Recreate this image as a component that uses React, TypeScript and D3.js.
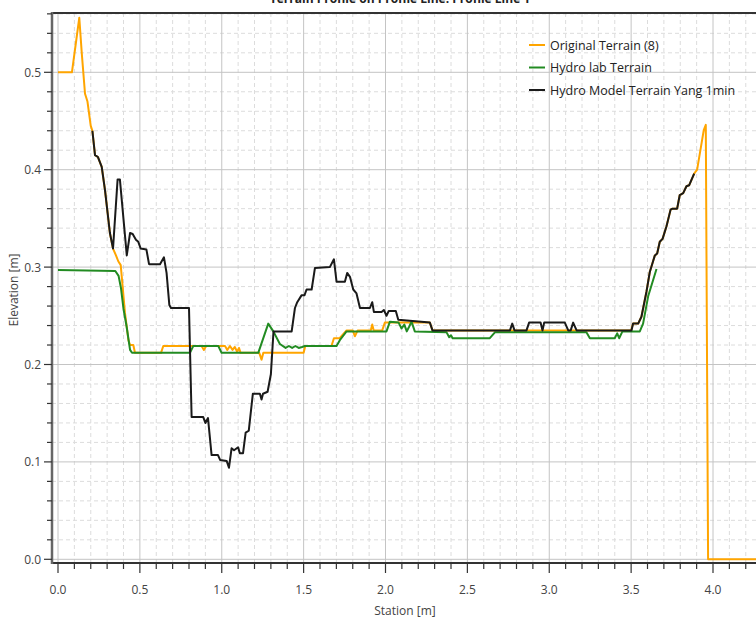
import React from "react";
import * as d3 from "d3";

const originalTerrain: [number, number][] = [
  [0, 0.5], [0.085, 0.5], [0.13, 0.556], [0.145, 0.52], [0.165, 0.478], [0.18, 0.47], [0.2, 0.445], [0.21, 0.44],
  [0.226, 0.415], [0.244, 0.413], [0.267, 0.403], [0.287, 0.379], [0.317, 0.335], [0.336, 0.319], [0.354, 0.312],
  [0.368, 0.306], [0.383, 0.302], [0.409, 0.253], [0.43, 0.225], [0.44, 0.22], [0.46, 0.22], [0.47, 0.212],
  [0.629, 0.212], [0.643, 0.219], [0.877, 0.219], [0.891, 0.215], [0.905, 0.219], [1.02, 0.219], [1.034, 0.215],
  [1.05, 0.219], [1.066, 0.215], [1.08, 0.218], [1.094, 0.213], [1.105, 0.217], [1.115, 0.212], [1.229, 0.212],
  [1.243, 0.205], [1.254, 0.212], [1.5, 0.212], [1.51, 0.219], [1.67, 0.219], [1.685, 0.227], [1.72, 0.227],
  [1.762, 0.235], [1.8, 0.235], [1.813, 0.229], [1.83, 0.235], [1.91, 0.235], [1.919, 0.241], [1.928, 0.235],
  [1.98, 0.235], [1.996, 0.243], [2.271, 0.243], [2.287, 0.235], [3.5, 0.235], [3.512, 0.242], [3.543, 0.242],
  [3.563, 0.249], [3.594, 0.275], [3.614, 0.295], [3.634, 0.306], [3.645, 0.312], [3.659, 0.314], [3.675, 0.326],
  [3.692, 0.329], [3.716, 0.342], [3.741, 0.359], [3.753, 0.36], [3.781, 0.36], [3.797, 0.374], [3.818, 0.376],
  [3.838, 0.383], [3.854, 0.384], [3.885, 0.396], [3.903, 0.4], [3.93, 0.427], [3.944, 0.441], [3.956, 0.446],
  [3.97, 0.0], [4.3, 0.0],
];

const hydroLabTerrain: [number, number][] = [
  [0, 0.297], [0.35, 0.296], [0.37, 0.291], [0.385, 0.278], [0.4, 0.257], [0.419, 0.239], [0.44, 0.215],
  [0.452, 0.212], [0.806, 0.212], [0.826, 0.219], [0.979, 0.219], [0.999, 0.212], [1.223, 0.212], [1.284, 0.242],
  [1.315, 0.234], [1.355, 0.221], [1.39, 0.217], [1.41, 0.219], [1.43, 0.217], [1.45, 0.219], [1.47, 0.217],
  [1.49, 0.218], [1.508, 0.219], [1.701, 0.219], [1.721, 0.225], [1.762, 0.234], [2.006, 0.234], [2.027, 0.244],
  [2.08, 0.243], [2.098, 0.237], [2.115, 0.241], [2.13, 0.234], [2.145, 0.239], [2.159, 0.244], [2.179, 0.234],
  [2.373, 0.233], [2.389, 0.228], [2.4, 0.23], [2.41, 0.227], [2.637, 0.227], [2.668, 0.233], [3.227, 0.233],
  [3.248, 0.227], [3.4, 0.227], [3.415, 0.232], [3.427, 0.227], [3.447, 0.234], [3.553, 0.234], [3.573, 0.242],
  [3.604, 0.27], [3.655, 0.298],
];

const hydroModelTerrain: [number, number][] = [
  [0.21, 0.44], [0.226, 0.415], [0.244, 0.413], [0.267, 0.403], [0.287, 0.379], [0.317, 0.335], [0.336, 0.319],
  [0.364, 0.39], [0.378, 0.39], [0.42, 0.312], [0.44, 0.335], [0.456, 0.334], [0.476, 0.328], [0.49, 0.326],
  [0.505, 0.319], [0.54, 0.318], [0.556, 0.303], [0.623, 0.303], [0.647, 0.31], [0.663, 0.294], [0.68, 0.261],
  [0.69, 0.258], [0.8, 0.258], [0.816, 0.146], [0.887, 0.146], [0.9, 0.14], [0.916, 0.145], [0.938, 0.107],
  [0.977, 0.107], [0.99, 0.102], [1.03, 0.101], [1.044, 0.094], [1.06, 0.114], [1.075, 0.112], [1.1, 0.115],
  [1.11, 0.109], [1.13, 0.109], [1.146, 0.13], [1.165, 0.132], [1.19, 0.17], [1.233, 0.17], [1.243, 0.164],
  [1.252, 0.17], [1.28, 0.172], [1.3, 0.19], [1.316, 0.234], [1.427, 0.234], [1.447, 0.258], [1.461, 0.264],
  [1.487, 0.271], [1.505, 0.271], [1.518, 0.277], [1.549, 0.277], [1.569, 0.299], [1.66, 0.3], [1.685, 0.308],
  [1.701, 0.285], [1.752, 0.285], [1.766, 0.294], [1.783, 0.29], [1.803, 0.277], [1.823, 0.273], [1.844, 0.258],
  [1.905, 0.258], [1.919, 0.264], [1.929, 0.254], [1.976, 0.254], [1.99, 0.256], [2.006, 0.25], [2.02, 0.255],
  [2.063, 0.255], [2.078, 0.246], [2.271, 0.243], [2.287, 0.235], [2.76, 0.235], [2.774, 0.242], [2.788, 0.235],
  [2.861, 0.235], [2.877, 0.243], [2.947, 0.243], [2.959, 0.235], [2.969, 0.243], [3.095, 0.243], [3.116, 0.235],
  [3.131, 0.235], [3.146, 0.243], [3.167, 0.235], [3.502, 0.235], [3.512, 0.242], [3.543, 0.242], [3.563, 0.249],
  [3.594, 0.275], [3.614, 0.295], [3.634, 0.306], [3.645, 0.312], [3.659, 0.314], [3.675, 0.326], [3.692, 0.329],
  [3.716, 0.342], [3.741, 0.359], [3.753, 0.36], [3.781, 0.36], [3.797, 0.374], [3.818, 0.376], [3.838, 0.383],
  [3.854, 0.384], [3.885, 0.396],
];

const seriesNames = ["Original Terrain (8)", "Hydro lab Terrain", "Hydro Model Terrain Yang 1min"];
const seriesColors = ["#FFA500", "#228B22", "#1a1a1a"];
const xMajorTicks = [0, 0.5, 1, 1.5, 2, 2.5, 3, 3.5, 4];
const yMajorTicks = [0, 0.1, 0.2, 0.3, 0.4, 0.5];
const titleText = "Terrain Profile on Profile Line: Profile Line 1";
const xTitle = "Station [m]";
const yTitle = "Elevation [m]";

const W = 756;
const H = 622;
const left = 52;
const top = 13;
const right = 756;
const bottom = 563;

export default function App() {
  const x = d3.scaleLinear().domain([0, 4]).range([58, 713]);
  const y = d3.scaleLinear().domain([0, 0.5]).range([559.3, 72.3]);
  const xDom = x.invert(right);
  const yTop = y.invert(top);
  const xMinor = d3.range(0, xDom, 0.1).filter((v) => Math.abs(v * 2 - Math.round(v * 2)) > 1e-6);
  const yMinor = d3.range(0, yTop, 0.02).filter((v) => Math.abs(v * 10 - Math.round(v * 10)) > 1e-6);
  const line = d3
    .line<[number, number]>()
    .x((d) => x(d[0]))
    .y((d) => y(d[1]));
  const series = [originalTerrain, hydroLabTerrain, hydroModelTerrain];
  const font = "'Open Sans', 'Noto Sans', sans-serif";
  return (
    <svg width={W} height={H} style={{ position: "absolute", left: 0, top: 0, background: "#fff" }} fontFamily={font}>
      <defs>
        <clipPath id="plot">
          <rect x={left} y={top} width={right - left} height={bottom - top} />
        </clipPath>
      </defs>
      <text x={400} y={3} textAnchor="middle" fontSize={12} fontWeight="bold" fill="#222">
        {titleText}
      </text>
      {/* minor grid */}
      {xMinor.map((v) => (
        <line key={"xm" + v} x1={x(v)} x2={x(v)} y1={top} y2={bottom} stroke="#dcdcdc" strokeDasharray="4,3" />
      ))}
      {yMinor.map((v) => (
        <line key={"ym" + v} x1={left} x2={right} y1={y(v)} y2={y(v)} stroke="#dcdcdc" strokeDasharray="4,3" />
      ))}
      {/* major grid */}
      {xMajorTicks.map((v) => (
        <line key={"xM" + v} x1={x(v)} x2={x(v)} y1={top} y2={bottom} stroke="#c4c4c4" />
      ))}
      {yMajorTicks.map((v) => (
        <line key={"yM" + v} x1={left} x2={right} y1={y(v)} y2={y(v)} stroke="#c4c4c4" />
      ))}
      {/* series */}
      <g clipPath="url(#plot)">
        {series.map((s, i) => (
          <path key={i} d={line(s) || ""} fill="none" stroke={seriesColors[i]} strokeWidth={2} strokeLinejoin="round" />
        ))}
      </g>
      {/* axes */}
      <line x1={left} x2={right} y1={top} y2={top} stroke="#333" strokeWidth={2} />
      <line x1={left} x2={right} y1={bottom} y2={bottom} stroke="#333" strokeWidth={2} />
      <line x1={left} x2={left} y1={top - 1} y2={bottom + 1} stroke="#666" strokeWidth={2.5} />
      {/* y ticks */}
      {yMajorTicks.map((v) => (
        <g key={"yt" + v}>
          <line x1={left - 8} x2={left} y1={y(v)} y2={y(v)} stroke="#333" strokeWidth={1.2} />
          <text x={left - 11} y={y(v) + 4.5} textAnchor="end" fontSize={12} fill="#444">
            {v.toFixed(1)}
          </text>
        </g>
      ))}
      {yMinor.map((v) => (
        <line key={"ytm" + v} x1={left - 5} x2={left} y1={y(v)} y2={y(v)} stroke="#333" strokeWidth={1.2} />
      ))}
      {/* x ticks */}
      {xMajorTicks.map((v) => (
        <g key={"xt" + v}>
          <line x1={x(v)} x2={x(v)} y1={bottom} y2={bottom + 10} stroke="#333" strokeWidth={1.2} />
          <text x={x(v)} y={594} textAnchor="middle" fontSize={12} fill="#444">
            {v.toFixed(1)}
          </text>
        </g>
      ))}
      {xMinor.map((v) => (
        <line key={"xtm" + v} x1={x(v)} x2={x(v)} y1={bottom} y2={bottom + 6} stroke="#333" strokeWidth={1.2} />
      ))}
      <text x={405} y={615} textAnchor="middle" fontSize={12} fill="#444">
        {xTitle}
      </text>
      <text transform="translate(18,290) rotate(-90)" textAnchor="middle" fontSize={12} fill="#444">
        {yTitle}
      </text>
      {/* legend */}
      {seriesNames.map((n, i) => (
        <g key={"lg" + i} transform={`translate(529,${45 + i * 22.5})`}>
          <line x1={0} x2={16} y1={0} y2={0} stroke={seriesColors[i]} strokeWidth={2} />
          <text x={21} y={4.5} fontSize={12.5} fill="#222">
            {n}
          </text>
        </g>
      ))}
    </svg>
  );
}
